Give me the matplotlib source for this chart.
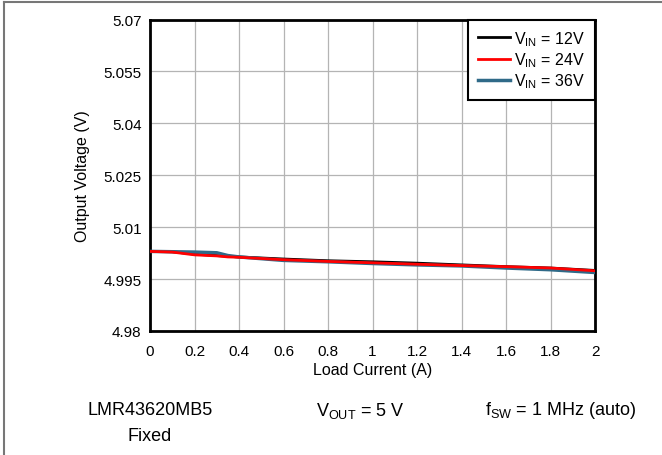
import matplotlib.pyplot as plt
from matplotlib.lines import Line2D

plt.rcParams['font.family'] = ['Liberation Sans', 'DejaVu Sans']

# load current (A)
current = [0, 0.1, 0.2, 0.3, 0.35, 0.4, 0.6, 0.8, 1.0, 1.2, 1.4, 1.6, 1.8, 2.0]
# output voltage (V) for each input voltage
v_12 = [5.0030, 5.0029, 5.0022, 5.0018, 5.0016, 5.0014, 5.0008, 5.0003, 5.0000,
        4.9996, 4.9991, 4.9986, 4.9982, 4.9975]
v_24 = [5.0030, 5.0028, 5.0020, 5.0017, 5.0014, 5.0013, 5.0006, 5.0001, 4.9997,
        4.9993, 4.9989, 4.9986, 4.9982, 4.9974]
v_36 = [5.0030, 5.0029, 5.0028, 5.0026, 5.0018, 5.0014, 5.0004, 5.0000, 4.9995,
        4.9991, 4.9988, 4.9982, 4.9977, 4.9969]

xticks = [0, 0.2, 0.4, 0.6, 0.8, 1, 1.2, 1.4, 1.6, 1.8, 2]
yticks = [4.98, 4.995, 5.01, 5.025, 5.04, 5.055, 5.07]
ytick_labels = ["4.98", "4.995", "5.01", "5.025", "5.04", "5.055", "5.07"]

fig = plt.figure(figsize=(6.62, 4.56), dpi=100)
ax = fig.add_axes([150/662, 1 - 332/456, 445/662, 311.5/456])

ax.plot(current, v_12, color='black', lw=2, label=r'V$_{\mathregular{IN}}$ = 12V', zorder=3)
ax.plot(current, v_24, color='#ff0000', lw=2, label=r'V$_{\mathregular{IN}}$ = 24V', zorder=4)
ax.plot(current, v_36, color='#2f6a88', lw=2.5, label=r'V$_{\mathregular{IN}}$ = 36V', zorder=3)

ax.set_xlim(0, 2)
ax.set_ylim(4.98, 5.07)
ax.set_xticks(xticks)
ax.set_xticklabels([f"{t:g}" for t in xticks])
ax.set_yticks(yticks)
ax.set_yticklabels(ytick_labels)
ax.tick_params(length=0, labelsize=11)
ax.tick_params(axis='x', pad=9)
ax.tick_params(axis='y', pad=6)
ax.grid(True, color='#b4b4b4', lw=0.9)
for s in ax.spines.values():
    s.set_linewidth(2)
    s.set_color('black')

ax.set_xlabel("Load Current (A)", fontsize=11.5, labelpad=3)
ax.set_ylabel("Output Voltage (V)", fontsize=11.5, labelpad=10)

leg = ax.legend(loc='upper right', borderaxespad=0, fontsize=11.5, handlelength=2.0,
                labelspacing=0.15, borderpad=0.6, handletextpad=0.3, fancybox=False,
                framealpha=1)
leg.get_frame().set_edgecolor('black')
leg.get_frame().set_linewidth(1.5)

fig.text(150/662, 1 - 411/456, "LMR43620MB5", fontsize=13, ha='center', va='center')
fig.text(150/662, 1 - 437/456, "Fixed", fontsize=13, ha='center', va='center')
fig.text(360/662, 1 - 411/456, r"V$_{\mathregular{OUT}}$ = 5 V", fontsize=13, ha='center', va='center')
fig.text(561/662, 1 - 411/456, r"f$_{\mathregular{SW}}$ = 1 MHz (auto)", fontsize=13, ha='center', va='center')

# outer frame lines (top and left)
fig.add_artist(Line2D([3.5/662, 1], [1 - 3/456, 1 - 3/456], color='#777777', lw=1.5, transform=fig.transFigure))
fig.add_artist(Line2D([3.5/662, 3.5/662], [0, 1 - 3/456], color='#777777', lw=1.5, transform=fig.transFigure))

fig.savefig("out.png", dpi=100)
